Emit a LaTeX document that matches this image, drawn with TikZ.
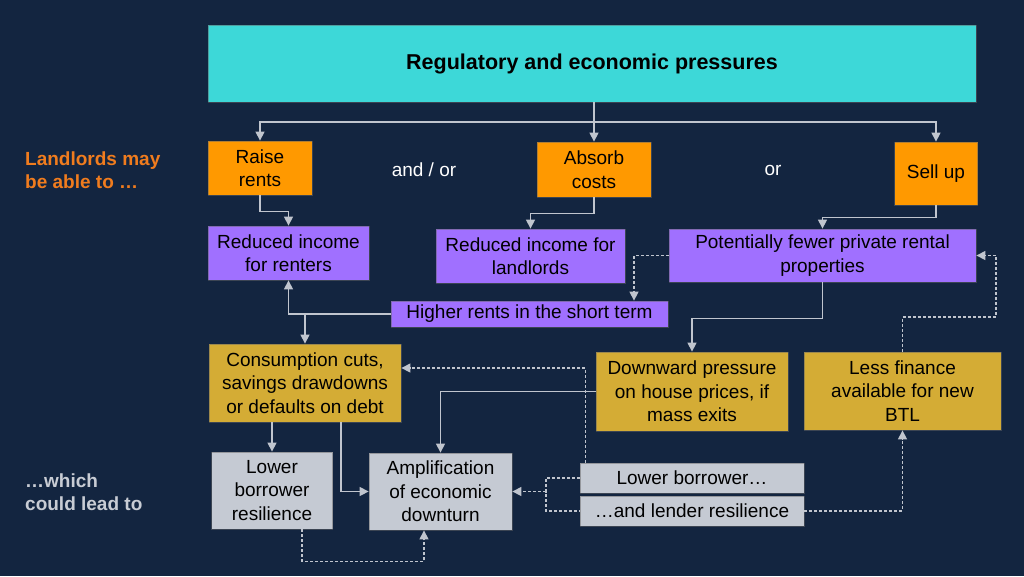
\documentclass[tikz,border=0pt]{standalone}
\usepackage{fontspec}
\setmainfont{Liberation Sans}
\usetikzlibrary{arrows.meta,calc}
\definecolor{bgc}{HTML}{132540}
\definecolor{cyanc}{HTML}{3DD8D8}
\definecolor{orangec}{HTML}{FF9900}
\definecolor{purplec}{HTML}{A070FF}
\definecolor{goldc}{HTML}{D4AC35}
\definecolor{grayc}{HTML}{C5CAD3}
\definecolor{linec}{HTML}{C0C5CE}
\definecolor{ltext}{HTML}{F07C1E}
\definecolor{gtext}{HTML}{C8CCD4}
\tikzset{
  box/.style={draw=black!60, draw opacity=0.5, line width=0.8pt, inner sep=0pt, align=center,
    font=\fontsize{19}{23.5}\selectfont, text=black},
  obox/.style={box, fill=orangec},
  pbox/.style={box, fill=purplec},
  gbox/.style={box, fill=goldc},
  sbox/.style={box, fill=grayc},
  arr/.style={draw=linec, line width=1.3pt, -{Triangle[width=9pt,length=9pt]}},
  darr/.style={arr, dash pattern=on 3pt off 2pt},
  dsh/.style={draw=linec, line width=1.3pt, dash pattern=on 3pt off 2pt},
  lbl/.style={font=\fontsize{19}{23.5}\selectfont, inner sep=0pt, align=left},
}
\begin{document}
\begin{tikzpicture}[x=1pt,y=-1pt]
\fill[bgc] (0,0) rectangle (1024,576);
\useasboundingbox (0,0) rectangle (1024,576);

\node[box, fill=cyanc, minimum width=768pt, minimum height=77pt, font=\fontsize{21.5}{26}\selectfont\bfseries] (top) at (592,63.5) {Regulatory and economic pressures};

\node[obox, minimum width=104pt, minimum height=54pt] (raise) at (260,168) {Raise\\rents};
\node[obox, minimum width=114pt, minimum height=55pt] (absorb) at (594,169.5) {Absorb\\costs};
\node[obox, minimum width=83pt, minimum height=63pt] (sellup) at (936,173.5) {Sell up};

\node[lbl, text=white] (andor) at (424,170) {and / or};
\node[lbl, text=white] (or) at (773,170) {or};
\node[lbl, text=ltext, anchor=west, font=\fontsize{19}{23.5}\selectfont\bfseries] (landl) at (25,170) {Landlords may\\be able to …};
\node[lbl, text=gtext, anchor=west, font=\fontsize{19}{23.5}\selectfont\bfseries] (which) at (25,492) {…which\\could lead to};

\node[pbox, minimum width=161pt, minimum height=54pt] (renters) at (288.5,253) {Reduced income\\for renters};
\node[pbox, minimum width=189pt, minimum height=54pt] (landlords) at (530.5,256) {Reduced income for\\landlords};
\node[pbox, minimum width=307pt, minimum height=53pt] (fewer) at (822.5,255.5) {Potentially fewer private rental\\properties};
\node[pbox, minimum width=277pt, minimum height=26pt] (higher) at (529.5,314) {Higher rents in the short term};

\node[gbox, minimum width=192pt, minimum height=78pt] (consumption) at (305,383) {Consumption cuts,\\savings drawdowns\\or defaults on debt};
\node[gbox, minimum width=192pt, minimum height=79pt] (downward) at (692,391.5) {Downward pressure\\on house prices, if\\mass exits};
\node[gbox, minimum width=197pt, minimum height=78pt] (lessfin) at (902.5,391) {Less finance\\available for new\\BTL};

\node[sbox, minimum width=121pt, minimum height=77pt] (lowerb) at (272,490.5) {Lower\\borrower\\resilience};
\node[sbox, minimum width=143pt, minimum height=77pt] (ampl) at (440.5,491.5) {Amplification\\of economic\\downturn};
\node[sbox, minimum width=224pt, minimum height=30pt] (lb2) at (692,478) {Lower borrower…};
\node[sbox, minimum width=224pt, minimum height=30pt] (lender) at (692,511) {…and lender resilience};

% top fan-out
\coordinate (hb) at (594,122);
\draw[draw=linec, line width=1.3pt] (top.south -| hb) -- (hb);
\draw[arr] (hb) -- (absorb.north);
\draw[arr] (hb) -| (raise.north);
\draw[arr] (hb) -| (sellup.north);

\draw[arr] (raise.south) -- ++(0,16) -| (renters.north);
\draw[arr] (absorb.south) -- ++(0,16) -| (landlords.north);
\draw[arr] (sellup.south) -- ++(0,12) -| (fewer.north);

\draw[darr] (fewer.west) -| ([xshift=104.5pt]higher.north);
\draw[arr] (higher.west) -| (renters.south);
\draw[arr] (consumption.north |- higher.west) -- (consumption.north);
\draw[arr] (fewer.south) -- ++(0,36) -| (downward.north);

\draw[arr] (consumption.south -| lowerb.north) -- (lowerb.north);
\draw[arr] ([xshift=36pt]consumption.south) |- (ampl.west);
\draw[arr] (downward.west) -| (ampl.north);

\draw[darr] ([xshift=6pt]lb2.north west) |- ([yshift=15pt]consumption.east);
\coordinate (brk) at (546,491.5);
\draw[dsh] (lb2.west) -| (brk) |- (lender.west);
\draw[darr] (brk) -- (ampl.east);
\draw[darr] (lender.east) -| (lessfin.south);
\coordinate (c1) at (996,317);
\draw[darr] (lessfin.north) |- (c1) |- (fewer.east);
\draw[darr] ([xshift=30pt]lowerb.south) -- ++(0,32) -| ([xshift=-16.5pt]ampl.south);
\end{tikzpicture}
\end{document}
